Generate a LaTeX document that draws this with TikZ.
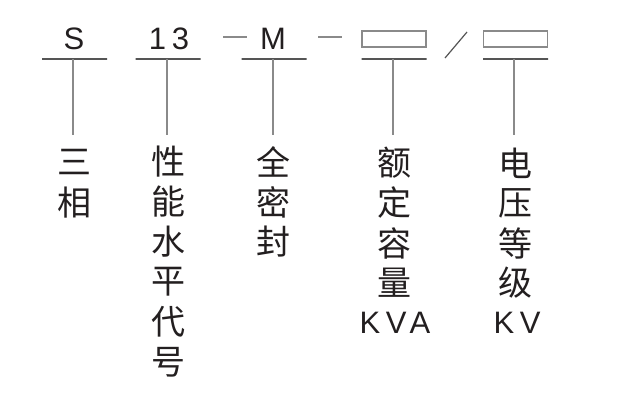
\documentclass[tikz,border=0pt]{standalone}
\usepackage{fontspec}
\setmainfont{Liberation Sans}
\newfontfamily\cjk{Noto Sans CJK SC}
\newfontfamily\latinsp[LetterSpace=18]{Liberation Sans}
\definecolor{ink}{HTML}{231F20}
\definecolor{uline}{HTML}{555555}
\definecolor{vline}{HTML}{8A8A8A}
\tikzset{
  lat/.style={inner sep=0pt, text=ink, font=\latinsp\fontsize{31}{36}\selectfont},
  han/.style={inner sep=0pt, text=ink, font=\cjk\fontsize{34}{40}\selectfont},
  ubar/.style={draw=uline, line width=1.3pt, inner sep=0pt, minimum height=0pt, minimum width=65pt},
  vbar/.style={draw=vline, line width=1.1pt},
  slot/.style={draw=vline, line width=1.5pt, inner sep=0pt, minimum width=64pt, minimum height=16pt},
  sep/.style={draw=vline, line width=1.2pt}
}
\begin{document}
\begin{tikzpicture}[x=1pt, y=-1pt]
\useasboundingbox[fill=white] (0,0) rectangle (640,406);
% top codes
\node[lat] (tS) at (74,38.5) {S};
\node[lat] (t13) at (169,38.5) {13};
\node[lat] (tM) at (273,38.5) {M};
\node[slot] (bD) at (394,39) {};
\node[slot] (bE) at (515.5,39) {};
% separators
\draw[sep] (223,37) -- (247,37);
\draw[sep] (318,37) -- (342,37);
\draw[sep, draw=uline] (445,58) -- (467,32);
% underlines
\node[ubar] (uA) at (74.5,59) {};
\node[ubar] (uB) at (168,59) {};
\node[ubar] (uC) at (274,59) {};
\node[ubar] (uD) at (394,59) {};
\node[ubar] (uE) at (515.5,59) {};
% column A
\node[han] (a1) at (74,162) {三};
\node[han] (a2) at (74,203) {相};
% column B
\node[han] (b1) at (168,162) {性};
\node[han] (b2) at (168,202) {能};
\node[han] (b3) at (168,242) {水};
\node[han] (b4) at (168,282) {平};
\node[han] (b5) at (168,322) {代};
\node[han] (b6) at (168,362) {号};
% column C
\node[han] (c1) at (273.5,162) {全};
\node[han] (c2) at (273.5,202) {密};
\node[han] (c3) at (273.5,242) {封};
% column D
\node[han] (d1) at (394,163) {额};
\node[han] (d2) at (394,203) {定};
\node[han] (d3) at (394,243) {容};
\node[han] (d4) at (394,283) {量};
\node[lat] (d5) at (395,323) {KVA};
% column E
\node[han] (e1) at (515,163) {电};
\node[han] (e2) at (515,203) {压};
\node[han] (e3) at (515,243) {等};
\node[han] (e4) at (515,283) {级};
\node[lat] (e5) at (517,323) {KV};
% connectors
\coordinate (eA) at (73,135);
\coordinate (eB) at (167,135);
\coordinate (eC) at (273,135);
\coordinate (eD) at (393,135);
\coordinate (eE) at (514,135);
\draw[vbar] (uA.center -| eA) -- (eA);
\draw[vbar] (uB.center -| eB) -- (eB);
\draw[vbar] (uC.center -| eC) -- (eC);
\draw[vbar] (uD.center -| eD) -- (eD);
\draw[vbar] (uE.center -| eE) -- (eE);
\end{tikzpicture}
\end{document}
